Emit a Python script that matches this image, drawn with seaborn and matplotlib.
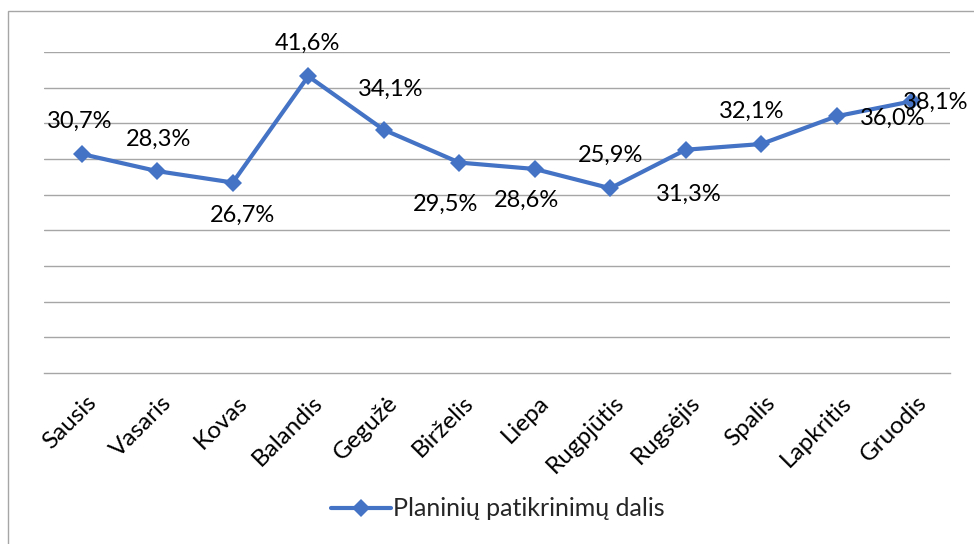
import matplotlib
matplotlib.use("Agg")
import matplotlib.pyplot as plt
import matplotlib.transforms as mtrans
import seaborn as sns
import pandas as pd
from matplotlib.patches import Rectangle

# data
months = ["Sausis", "Vasaris", "Kovas", "Balandis", "Gegužė", "Birželis",
          "Liepa", "Rugpjūtis", "Rugsėjis", "Spalis", "Lapkritis", "Gruodis"]
share = [30.7, 28.3, 26.7, 41.6, 34.1, 29.5, 28.6, 25.9, 31.3, 32.1, 36.0, 38.1]
series_name = "Planinių patikrinimų dalis"

# label offsets in pixels (dx, dy), as placed in the original chart
label_offsets = [(-2, 33), (1, 32), (10, -33), (-1, 33), (7, 40), (-14, -42),
                 (-8, -31), (0, 33), (3, -45), (-10, 33), (56, -2), (23, -1)]

df = pd.DataFrame({"month": months, "share": share, "series": series_name})
df["pos"] = range(len(months))

sns.set_theme(style="white")
plt.rcParams["font.family"] = ["Lato", "DejaVu Sans"]

BLUE = "#4472C4"
GRID = "#a6a6a6"

fig = plt.figure(figsize=(9.74, 5.44), dpi=100)
ax = fig.add_axes([44 / 974, 1 - 373 / 544, (950 - 44) / 974, (373 - 52) / 544])

sns.lineplot(data=df, x="pos", y="share", hue="series", palette=[BLUE],
             marker="D", markersize=9, markeredgewidth=0, linewidth=3,
             ax=ax)

ax.set_xlim(-0.5, len(months) - 0.5)
ax.set_ylim(0, 45)
ax.set_yticks(range(5, 50, 5))
ax.yaxis.grid(True, color=GRID, linewidth=1)
ax.tick_params(axis="y", left=False, labelleft=False)
ax.tick_params(axis="x", bottom=False, pad=0)
for s in ["top", "right", "left"]:
    ax.spines[s].set_visible(False)
ax.spines["bottom"].set_color(GRID)
ax.spines["bottom"].set_linewidth(1)
ax.set_xlabel("")
ax.set_ylabel("")

ax.set_xticks(range(len(months)))
ax.set_xticklabels(months, rotation=45, ha="right", va="center",
                   rotation_mode="anchor", fontsize=17.5, color="#000000")
for lbl in ax.get_xticklabels():
    lbl.set_transform(lbl.get_transform() + mtrans.Affine2D().translate(11, -18))

for i, (v, off) in enumerate(zip(share, label_offsets)):
    ax.annotate(f"{v:.1f}%".replace(".", ","), xy=(i, v), xytext=off,
                textcoords="offset pixels", ha="center", va="center",
                fontsize=17, color="#000000")

leg = ax.legend(loc="center", bbox_to_anchor=(498 / 974, 1 - 509 / 544),
                bbox_transform=fig.transFigure, frameon=False, fontsize=18,
                handlelength=2.4, handletextpad=0.1)
for h in leg.get_lines():
    h.set_linewidth(3)
    h.set_markersize(9)

fig.patches.append(Rectangle((8 / 974, -0.1), 1.2, 1 - 11 / 544 + 0.1,
                             transform=fig.transFigure, fill=False,
                             edgecolor=GRID, linewidth=1))

fig.savefig("out.png", dpi=100, facecolor="white")
